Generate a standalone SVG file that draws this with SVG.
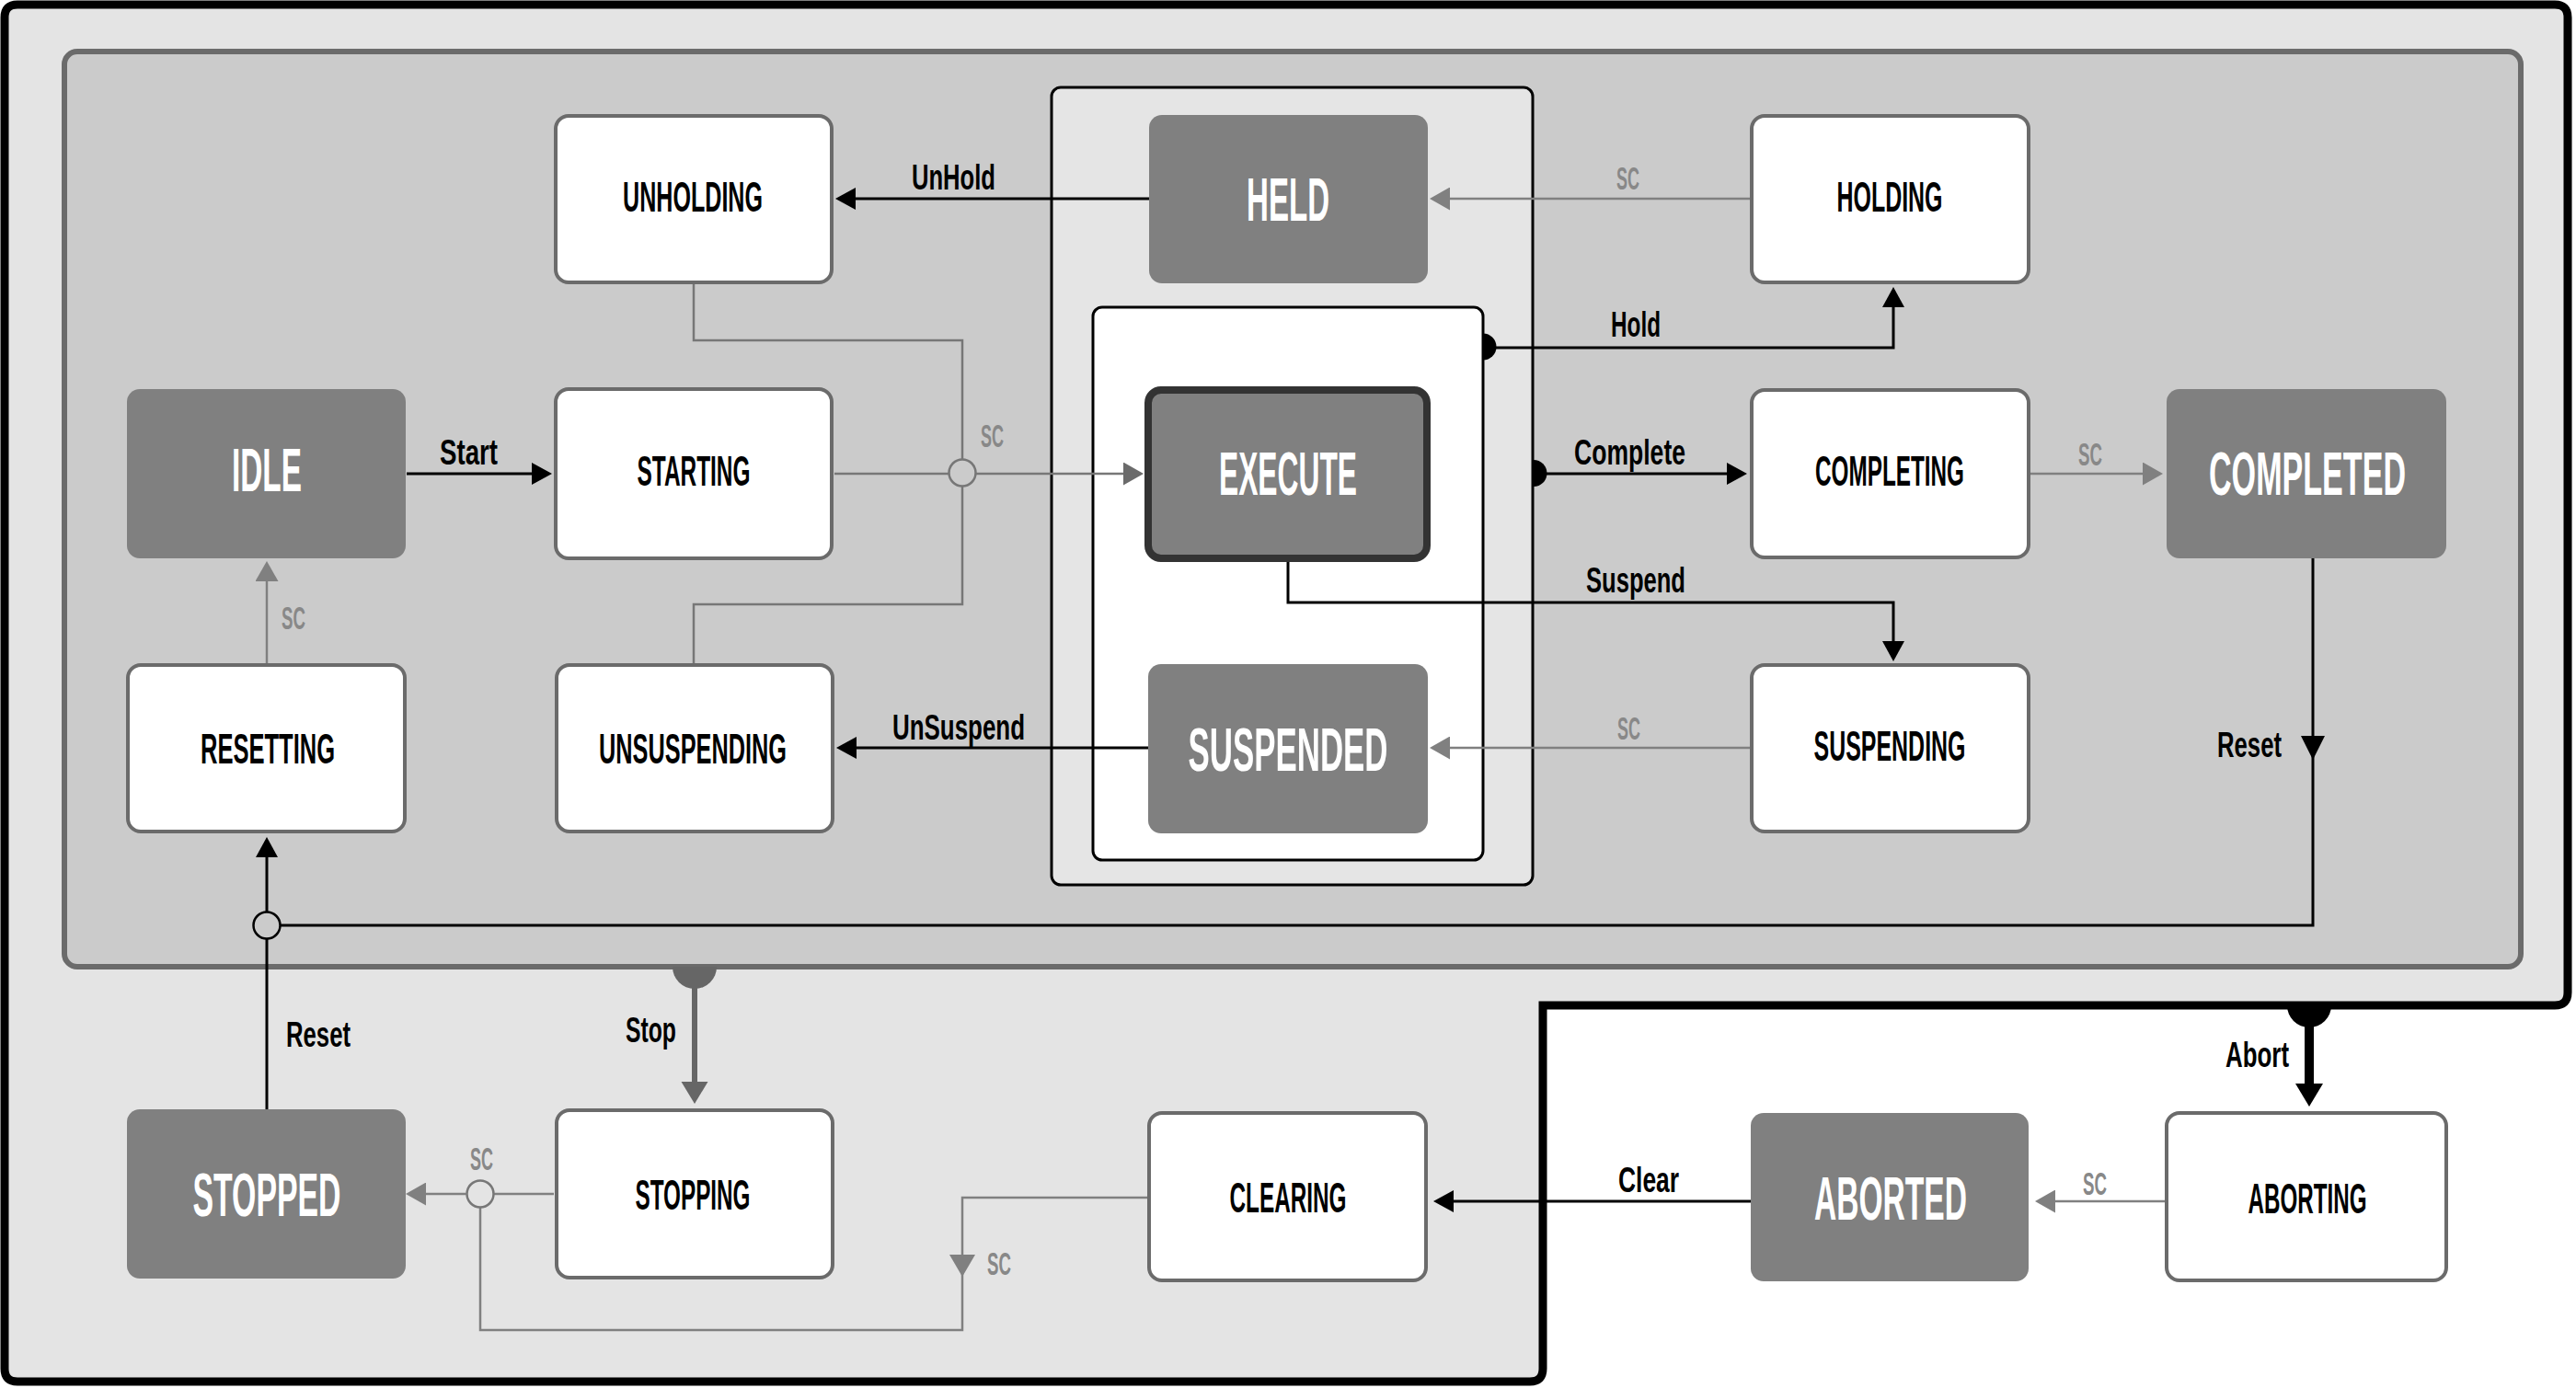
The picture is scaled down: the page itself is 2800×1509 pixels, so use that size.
<svg xmlns="http://www.w3.org/2000/svg" width="2800" height="1509" viewBox="0 0 2800 1509">
  <style>
    text { font-family: "Liberation Sans", Arial, sans-serif; font-weight: bold; }
    .st-w rect { fill: #ffffff; stroke: #6b6b6b; stroke-width: 4; }
    .st-d rect { fill: #808080; }
    .st-w text { font-size: 25px; fill: #000; text-anchor: middle; }
    .st-d text { font-size: 33.5px; fill: #fff; text-anchor: middle; }
    .ev { font-size: 25.8px; fill: #000; }
    .sc { font-size: 18px; fill: #888888; }
    .ln { fill: none; stroke: #000; stroke-width: 3; }
    .lg { fill: none; stroke: #808080; stroke-width: 2.5; }
    .lj { fill: none; stroke: #777777; stroke-width: 2.5; }
  </style>
  <defs>
    <marker id="ah" markerUnits="userSpaceOnUse" viewBox="0 0 22 24" refX="0" refY="12" markerWidth="22" markerHeight="24" orient="auto">
      <path d="M0,0 L22,12 L0,24 Z" fill="#000"/>
    </marker>
    <marker id="ahg" markerUnits="userSpaceOnUse" viewBox="0 0 22 25" refX="0" refY="12.5" markerWidth="22" markerHeight="25" orient="auto">
      <path d="M0,0 L22,12.5 L0,25 Z" fill="#808080"/>
    </marker>
    <marker id="ahj" markerUnits="userSpaceOnUse" viewBox="0 0 22 25" refX="0" refY="12.5" markerWidth="22" markerHeight="25" orient="auto">
      <path d="M0,0 L22,12.5 L0,25 Z" fill="#6b6b6b"/>
    </marker>
  </defs>

  <!-- page background -->
  <rect x="0" y="0" width="2800" height="1509" fill="#ffffff"/>

  <!-- outer frame: all states that can be aborted -->
  <path d="M19,5 H2777 Q2791,5 2791,19 V1079 Q2791,1093 2777,1093 H1677 V1488 Q1677,1502 1663,1502 H19 Q5,1502 5,1488 V19 Q5,5 19,5 Z" fill="#e4e4e4" stroke="#000" stroke-width="9"/>
  <!-- stoppable region -->
  <rect x="70" y="56" width="2670" height="995" rx="14" fill="#cbcbcb" stroke="#6b6b6b" stroke-width="6"/>
  <!-- holdable region -->
  <rect x="1143" y="95" width="523" height="867" rx="10" fill="#e5e5e5" stroke="#000" stroke-width="3"/>
  <!-- suspendable region -->
  <rect x="1188" y="334" width="424" height="601" rx="10" fill="#ffffff" stroke="#000" stroke-width="3"/>

  <g id="connectors">
    <!-- Start -->
    <path class="ln" d="M442,515 H578" marker-end="url(#ah)"/>
    <text class="ev" transform="translate(478,505) scale(1,1.51)" textLength="63" lengthAdjust="spacingAndGlyphs">Start</text>
    <!-- UnHold -->
    <path class="ln" d="M1249,216 H930" marker-end="url(#ah)"/>
    <text class="ev" transform="translate(991,206) scale(1,1.51)" textLength="91" lengthAdjust="spacingAndGlyphs">UnHold</text>
    <!-- HOLDING to HELD -->
    <path class="lg" d="M1902,216 H1576" marker-end="url(#ahg)"/>
    <text class="sc" transform="translate(1757,206) scale(1,2)" textLength="25" lengthAdjust="spacingAndGlyphs">SC</text>
    <!-- Hold -->
    <path d="M1612,362.5 A14.5,14.5 0 0 1 1612,391.5 Z" fill="#000"/>
    <path class="ln" d="M1612,378 H2058 V334" marker-end="url(#ah)"/>
    <text class="ev" transform="translate(1751,366) scale(1,1.51)" textLength="54" lengthAdjust="spacingAndGlyphs">Hold</text>
    <!-- Complete -->
    <path d="M1667,500 A14.5,14.5 0 0 1 1667,529 Z" fill="#000"/>
    <path class="ln" d="M1667,515 H1877" marker-end="url(#ah)"/>
    <text class="ev" transform="translate(1711,505) scale(1,1.51)" textLength="121" lengthAdjust="spacingAndGlyphs">Complete</text>
    <!-- Suspend -->
    <path class="ln" d="M1400,611 V655 H2058 V697" marker-end="url(#ah)"/>
    <text class="ev" transform="translate(1724,644) scale(1,1.51)" textLength="108" lengthAdjust="spacingAndGlyphs">Suspend</text>
    <!-- SUSPENDING to SUSPENDED -->
    <path class="lg" d="M1902,813 H1576" marker-end="url(#ahg)"/>
    <text class="sc" transform="translate(1758,804) scale(1,2)" textLength="25" lengthAdjust="spacingAndGlyphs">SC</text>
    <!-- UnSuspend -->
    <path class="ln" d="M1248,813 H931" marker-end="url(#ah)"/>
    <text class="ev" transform="translate(970,804) scale(1,1.51)" textLength="144" lengthAdjust="spacingAndGlyphs">UnSuspend</text>
    <!-- STARTING / UNHOLDING / UNSUSPENDING merge into EXECUTE -->
    <path class="lj" d="M907,515 H1031.5"/>
    <path class="lj" d="M754,309 V370 H1046 V499.5"/>
    <path class="lj" d="M754,721 V657 H1046 V528.5"/>
    <circle cx="1046" cy="514" r="14.5" fill="#cbcbcb" stroke="#777777" stroke-width="2.5"/>
    <path class="lj" d="M1060.5,515 H1221" marker-end="url(#ahj)"/>
    <text class="sc" transform="translate(1066,486) scale(1,2)" textLength="25" lengthAdjust="spacingAndGlyphs">SC</text>
    <!-- COMPLETING to COMPLETED -->
    <path class="lg" d="M2207,515 H2329" marker-end="url(#ahg)"/>
    <text class="sc" transform="translate(2259,506) scale(1,2)" textLength="26" lengthAdjust="spacingAndGlyphs">SC</text>
    <!-- Reset from COMPLETED -->
    <path class="ln" d="M2514,607 V1006 H304.5"/>
    <path d="M2501,800 L2527,800 L2514,826 Z" fill="#000"/>
    <text class="ev" transform="translate(2410,823) scale(1,1.51)" textLength="70" lengthAdjust="spacingAndGlyphs">Reset</text>
    <!-- Reset from STOPPED -->
    <path class="ln" d="M290,1206 V1020.5"/>
    <circle cx="290" cy="1006" r="14.5" fill="#cbcbcb" stroke="#000" stroke-width="2.5"/>
    <path class="ln" d="M290,991.5 V932" marker-end="url(#ah)"/>
    <text class="ev" transform="translate(311,1138) scale(1,1.51)" textLength="70" lengthAdjust="spacingAndGlyphs">Reset</text>
    <!-- RESETTING to IDLE -->
    <path class="lg" d="M290,721 V632" marker-end="url(#ahg)"/>
    <text class="sc" transform="translate(306,684) scale(1,2)" textLength="26" lengthAdjust="spacingAndGlyphs">SC</text>
    <!-- Stop -->
    <path d="M731,1051 A24,24 0 0 0 779,1051 Z" fill="#666666"/>
    <path d="M755,1051 V1177" fill="none" stroke="#666666" stroke-width="6"/>
    <path d="M740.5,1176 L769.5,1176 L755,1200 Z" fill="#666666"/>
    <text class="ev" transform="translate(680,1133) scale(1,1.51)" textLength="55" lengthAdjust="spacingAndGlyphs">Stop</text>
    <!-- STOPPING / CLEARING to STOPPED -->
    <path class="lg" d="M602,1298 H536.5"/>
    <path class="lg" d="M1247,1302 H1046 V1446 H522 V1312.5"/>
    <path d="M1032,1364 L1060,1364 L1046,1388 Z" fill="#808080"/>
    <circle cx="522" cy="1298" r="14.5" fill="#e4e4e4" stroke="#777777" stroke-width="2.5"/>
    <path class="lg" d="M507.5,1298 H463" marker-end="url(#ahg)"/>
    <text class="sc" transform="translate(511,1272) scale(1,2)" textLength="25" lengthAdjust="spacingAndGlyphs">SC</text>
    <text class="sc" transform="translate(1073,1386) scale(1,2)" textLength="26" lengthAdjust="spacingAndGlyphs">SC</text>
    <!-- Clear -->
    <path class="ln" d="M1903,1306 H1580" marker-end="url(#ah)"/>
    <text class="ev" transform="translate(1759,1296) scale(1,1.51)" textLength="66" lengthAdjust="spacingAndGlyphs">Clear</text>
    <!-- ABORTING to ABORTED -->
    <path class="lg" d="M2353,1306 H2234" marker-end="url(#ahg)"/>
    <text class="sc" transform="translate(2264,1299) scale(1,2)" textLength="26" lengthAdjust="spacingAndGlyphs">SC</text>
    <!-- Abort -->
    <path d="M2486,1093 A24,24 0 0 0 2534,1093 Z" fill="#000"/>
    <path d="M2510,1093 V1179" fill="none" stroke="#000" stroke-width="10"/>
    <path d="M2495,1178 L2525,1178 L2510,1203 Z" fill="#000"/>
    <text class="ev" transform="translate(2419,1160) scale(1,1.51)" textLength="69" lengthAdjust="spacingAndGlyphs">Abort</text>
  </g>

  <!-- states -->
  <g id="node-unholding" class="st-w">
    <rect x="604" y="126" width="300" height="181" rx="14"/>
    <text transform="translate(753,230) scale(1,1.84)" textLength="152" lengthAdjust="spacingAndGlyphs">UNHOLDING</text>
  </g>
  <g id="node-held" class="st-d">
    <rect x="1249" y="125" width="303" height="183" rx="14"/>
    <text transform="translate(1400,240) scale(1,2)" textLength="90" lengthAdjust="spacingAndGlyphs">HELD</text>
  </g>
  <g id="node-holding" class="st-w">
    <rect x="1904" y="126" width="301" height="181" rx="14"/>
    <text transform="translate(2054,230) scale(1,1.84)" textLength="115" lengthAdjust="spacingAndGlyphs">HOLDING</text>
  </g>
  <g id="node-idle" class="st-d">
    <rect x="138" y="423" width="303" height="184" rx="14"/>
    <text transform="translate(290,534) scale(1,2)" textLength="76" lengthAdjust="spacingAndGlyphs">IDLE</text>
  </g>
  <g id="node-starting" class="st-w">
    <rect x="604" y="423" width="300" height="184" rx="14"/>
    <text transform="translate(754,528) scale(1,1.84)" textLength="123" lengthAdjust="spacingAndGlyphs">STARTING</text>
  </g>
  <g id="node-execute" class="st-d">
    <rect x="1248" y="424" width="303" height="183" rx="14" style="stroke:#333333;stroke-width:8"/>
    <text transform="translate(1400,538) scale(1,2)" textLength="150" lengthAdjust="spacingAndGlyphs">EXECUTE</text>
  </g>
  <g id="node-completing" class="st-w">
    <rect x="1904" y="424" width="301" height="182" rx="14"/>
    <text transform="translate(2054,528) scale(1,1.84)" textLength="162" lengthAdjust="spacingAndGlyphs">COMPLETING</text>
  </g>
  <g id="node-completed" class="st-d">
    <rect x="2355" y="423" width="304" height="184" rx="14"/>
    <text transform="translate(2508,538) scale(1,2)" textLength="214" lengthAdjust="spacingAndGlyphs">COMPLETED</text>
  </g>
  <g id="node-resetting" class="st-w">
    <rect x="139" y="723" width="301" height="181" rx="14"/>
    <text transform="translate(291,830) scale(1,1.84)" textLength="146" lengthAdjust="spacingAndGlyphs">RESETTING</text>
  </g>
  <g id="node-unsuspending" class="st-w">
    <rect x="605" y="723" width="300" height="181" rx="14"/>
    <text transform="translate(753,830) scale(1,1.84)" textLength="204" lengthAdjust="spacingAndGlyphs">UNSUSPENDING</text>
  </g>
  <g id="node-suspended" class="st-d">
    <rect x="1248" y="722" width="304" height="184" rx="14"/>
    <text transform="translate(1400,838) scale(1,2)" textLength="217" lengthAdjust="spacingAndGlyphs">SUSPENDED</text>
  </g>
  <g id="node-suspending" class="st-w">
    <rect x="1904" y="723" width="301" height="181" rx="14"/>
    <text transform="translate(2054,827) scale(1,1.84)" textLength="165" lengthAdjust="spacingAndGlyphs">SUSPENDING</text>
  </g>
  <g id="node-stopped" class="st-d">
    <rect x="138" y="1206" width="303" height="184" rx="14"/>
    <text transform="translate(290,1322) scale(1,2)" textLength="161" lengthAdjust="spacingAndGlyphs">STOPPED</text>
  </g>
  <g id="node-stopping" class="st-w">
    <rect x="605" y="1207" width="300" height="182" rx="14"/>
    <text transform="translate(753,1315) scale(1,1.84)" textLength="125" lengthAdjust="spacingAndGlyphs">STOPPING</text>
  </g>
  <g id="node-clearing" class="st-w">
    <rect x="1249" y="1210" width="301" height="182" rx="14"/>
    <text transform="translate(1400,1318) scale(1,1.84)" textLength="127" lengthAdjust="spacingAndGlyphs">CLEARING</text>
  </g>
  <g id="node-aborted" class="st-d">
    <rect x="1903" y="1210" width="302" height="183" rx="14"/>
    <text transform="translate(2055,1326) scale(1,2)" textLength="166" lengthAdjust="spacingAndGlyphs">ABORTED</text>
  </g>
  <g id="node-aborting" class="st-w">
    <rect x="2355" y="1210" width="304" height="182" rx="14"/>
    <text transform="translate(2508,1319) scale(1,1.84)" textLength="129" lengthAdjust="spacingAndGlyphs">ABORTING</text>
  </g>
</svg>
